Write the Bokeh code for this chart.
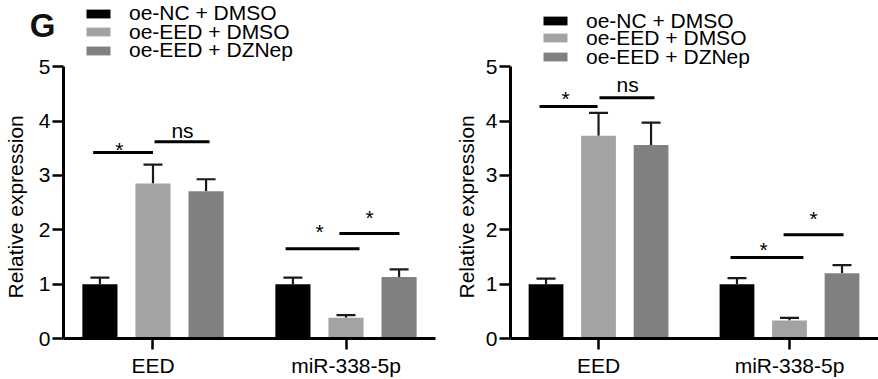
from bokeh.plotting import figure
from bokeh.models import (ColumnDataSource, Whisker, TeeHead, Legend, LegendItem,
                          Title, LinearAxis, Range1d, FixedTicker)
from bokeh.layouts import row
from bokeh.embed import file_html
from bokeh.resources import INLINE
from bokeh.core.properties import value

# ---------------- data ----------------
genes = ["EED", "miR-338-5p"]
groups = ["oe-NC + DMSO", "oe-EED + DMSO", "oe-EED + DZNep"]
colors = ["#000000", "#A3A3A3", "#808080"]
y_ticks = [0, 1, 2, 3, 4, 5]
panel_letter = "G"

# left panel
left_nc = [1.00, 1.00]
left_eed = [2.85, 0.38]
left_dznep = [2.71, 1.13]
left_nc_err = [0.12, 0.12]
left_eed_err = [0.35, 0.05]
left_dznep_err = [0.22, 0.14]
left_sig_x0 = [-0.31, 0.008, 0.687, 0.966]
left_sig_x1 = [0.0, 0.293, 1.07, 1.277]
left_sig_y = [3.42, 3.62, 1.65, 1.93]
left_sig_text = ["*", "ns", "*", "*"]
left_sig_tx = [-0.174, 0.153, 0.863, 1.122]
left_sig_ty = [3.48, 3.82, 1.965, 2.22]

# right panel
right_nc = [1.00, 1.00]
right_eed = [3.73, 0.33]
right_dznep = [3.56, 1.20]
right_nc_err = [0.10, 0.11]
right_eed_err = [0.42, 0.05]
right_dznep_err = [0.41, 0.15]
right_sig_x0 = [-0.309, 0.005, 0.691, 0.969]
right_sig_x1 = [-0.005, 0.293, 1.073, 1.283]
right_sig_y = [4.27, 4.43, 1.49, 1.91]
right_sig_text = ["*", "ns", "*", "*"]
right_sig_tx = [-0.173, 0.152, 0.864, 1.126]
right_sig_ty = [4.42, 4.67, 1.64, 2.21]

FONT = "Liberation Sans"
FS = "21px"
offsets = [-0.275, 0.0, 0.275]
BAR_W = 0.182
Y_TOP = 342 / 55.0  # frame spans full height; axis drawn 0..5


def make_panel(width, border_left, border_right, xr, means, errs,
               sx0, sx1, sy, stext, stx, sty, legend_x, legend_ys, letter, title_standoff):
    p = figure(width=width, height=379, x_range=Range1d(*xr), y_range=Range1d(0, Y_TOP),
               output_backend="svg", toolbar_location=None,
               min_border_left=border_left, min_border_right=border_right,
               min_border_top=0, min_border_bottom=37)
    p.outline_line_color = None
    p.grid.visible = False
    p.background_fill_color = "white"

    renderers = []
    base, lo, hi = [], [], []
    for k, (vals, ers) in enumerate(zip(means, errs)):
        xs = [i + offsets[k] for i in range(len(genes))]
        r = p.vbar(x=xs, top=vals, width=BAR_W, fill_color=colors[k], line_color=None)
        renderers.append(r)
        base += xs
        lo += list(vals)
        hi += [v + e for v, e in zip(vals, ers)]

    src = ColumnDataSource(dict(base=base, lower=lo, upper=hi))
    w = Whisker(source=src, base="base", lower="lower", upper="upper", dimension="height",
                line_color="#1a1a1a", line_width=2.2,
                upper_head=TeeHead(size=19, line_width=2.2, line_color="#1a1a1a"),
                lower_head=None)
    p.add_layout(w)

    p.segment(x0=sx0, y0=sy, x1=sx1, y1=sy, line_color="black", line_width=3)
    p.text(x=stx, y=sty, text=stext, text_align="center", text_baseline="alphabetic",
           text_font=value(FONT), text_font_size=FS, text_color="black")

    # main y axis (drawn only from 0 to 5)
    ya = p.yaxis[0]
    ya.bounds = (0, 5)
    ya.ticker = FixedTicker(ticks=y_ticks)
    ya.minor_tick_line_color = None
    ya.major_tick_in = 0
    ya.major_tick_out = 11
    ya.major_tick_line_width = 2.5
    ya.major_tick_line_color = "black"
    ya.axis_line_width = 3
    ya.axis_line_color = "black"
    ya.major_label_standoff = 2
    ya.major_label_text_font = FONT
    ya.major_label_text_font_size = FS
    ya.major_label_text_color = "black"

    xa = p.xaxis[0]
    xa.ticker = FixedTicker(ticks=list(range(len(genes))))
    xa.major_label_overrides = {i: g for i, g in enumerate(genes)}
    xa.minor_tick_line_color = None
    xa.major_tick_in = 0
    xa.major_tick_out = 11
    xa.major_tick_line_width = 2.5
    xa.major_tick_line_color = "black"
    xa.axis_line_width = 3
    xa.axis_line_color = "black"
    xa.major_label_standoff = 4
    xa.major_label_text_font = FONT
    xa.major_label_text_font_size = FS
    xa.major_label_text_color = "black"

    # panel letter, shown as a tick label of a bare extra axis
    if letter:
        ga = LinearAxis(ticker=FixedTicker(ticks=[5.75]),
                        major_label_overrides={5.75: letter},
                        axis_line_color=None, major_tick_line_color=None,
                        minor_tick_line_color=None, major_tick_out=0, major_tick_in=0,
                        major_label_standoff=-20,
                        major_label_text_font=FONT, major_label_text_font_size="33px",
                        major_label_text_font_style="bold", major_label_text_color="#111111")
        p.add_layout(ga, "left")

    # y axis title, placed along the 0..5 part of the axis
    p.add_layout(Title(text="Relative expression", align="left", offset=40,
                       standoff=title_standoff, text_font=FONT, text_font_size=FS,
                       text_font_style="normal", text_color="black"), "left")

    # legend: one legend per entry to control row spacing
    for k, g in enumerate(groups):
        lg = Legend(items=[LegendItem(label=g, renderers=[renderers[k]])],
                    location=(legend_x, legend_ys[k]),
                    padding=0, margin=0, spacing=0,
                    glyph_width=30, glyph_height=11, label_standoff=16, label_height=25,
                    label_text_font=FONT, label_text_font_size=FS,
                    label_text_color="black", label_text_baseline="alphabetic",
                    border_line_color=None, background_fill_alpha=0)
        p.add_layout(lg)
    return p


left = make_panel(440, 63, 5, (-0.4637, 1.4637),
                  [left_nc, left_eed, left_dznep],
                  [left_nc_err, left_eed_err, left_dznep_err],
                  left_sig_x0, left_sig_x1, left_sig_y, left_sig_text, left_sig_tx, left_sig_ty,
                  20, [312.3, 293.8, 275.3], panel_letter, 0)
right = make_panel(438, 70, 0, (-0.461, 1.466),
                   [right_nc, right_eed, right_dznep],
                   [right_nc_err, right_eed_err, right_dznep_err],
                   right_sig_x0, right_sig_x1, right_sig_y, right_sig_text, right_sig_tx, right_sig_ty,
                   30, [305.0, 287.7, 269.0], None, 10)

layout = row(left, right)
open("out.html", "w").write(file_html(layout, INLINE))
